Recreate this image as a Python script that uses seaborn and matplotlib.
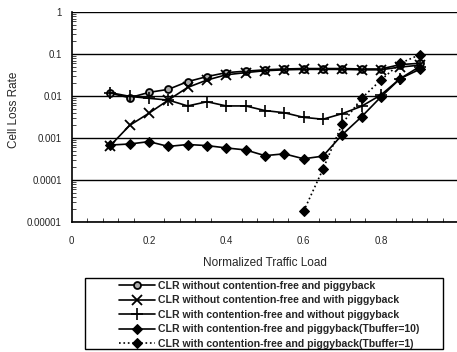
import matplotlib
matplotlib.use("Agg")
import matplotlib.pyplot as plt
import seaborn as sns
import numpy as np
import pandas as pd
from matplotlib.ticker import LogLocator, NullFormatter, MultipleLocator
from matplotlib.patches import Rectangle

sns.set_style("white")
plt.rcParams['font.family'] = ['Liberation Sans', 'DejaVu Sans']

load = [0.1, 0.15, 0.2, 0.25, 0.3, 0.35, 0.4, 0.45, 0.5, 0.55, 0.6, 0.65, 0.7, 0.75, 0.8, 0.85, 0.9]
clr_no_cf_no_pb = [0.0116, 0.0091, 0.0122, 0.0144, 0.022, 0.029, 0.036, 0.039, 0.042, 0.044,
                   0.045, 0.045, 0.045, 0.044, 0.044, 0.056, 0.06]
clr_no_cf_pb = [0.00066, 0.002, 0.0039, 0.008, 0.016, 0.024, 0.032, 0.036, 0.04, 0.042,
                0.043, 0.043, 0.043, 0.042, 0.042, 0.049, 0.054]
clr_cf_no_pb = [0.012, 0.0098, 0.0088, 0.008, 0.0058, 0.0073, 0.0058, 0.0058, 0.0045, 0.004,
                0.0031, 0.0028, 0.0038, 0.0057, 0.0106, 0.026, 0.05]
clr_cf_pb_t10 = [0.00068, 0.00072, 0.00082, 0.00063, 0.0007, 0.00066, 0.00058, 0.00052, 0.00038,
                 0.00042, 0.00032, 0.00037, 0.0012, 0.0032, 0.0095, 0.026, 0.043]
load_t1 = [0.6, 0.65, 0.7, 0.75, 0.8, 0.85, 0.9]
clr_cf_pb_t1 = [0.000018, 0.00018, 0.0022, 0.0088, 0.024, 0.06, 0.096]

labels = ["CLR without contention-free and piggyback",
          "CLR without contention-free and with piggyback",
          "CLR with contention-free and without piggyback",
          "CLR with contention-free and piggyback(Tbuffer=10)",
          "CLR with contention-free and piggyback(Tbuffer=1)"]

fig = plt.figure(figsize=(4.57, 3.52), dpi=100)
ax = fig.add_axes([71.7/457, (352-222)/352, 386.5/457, 210/352])

series = [
    (load, clr_no_cf_no_pb, dict(marker='o', markersize=5, markerfacecolor='#aaaaaa', markeredgewidth=1.3, linestyle='-')),
    (load, clr_no_cf_pb, dict(marker='x', markersize=7, markeredgewidth=1.3, linestyle='-')),
    (load, clr_cf_no_pb, dict(marker='+', markersize=8, markeredgewidth=1.2, linestyle='-')),
    (load, clr_cf_pb_t10, dict(marker='D', markersize=5, markerfacecolor='black', linestyle='-')),
    (load_t1, clr_cf_pb_t1, dict(marker='D', markersize=5.5, markerfacecolor='black', linestyle=':')),
]
for (xs, ys, kw), lab in zip(series, labels):
    df = pd.DataFrame({"x": xs, "y": ys})
    sns.lineplot(data=df, x="x", y="y", ax=ax, color='black', linewidth=1.2,
                 label=lab, markeredgecolor='black', **kw)

ax.set_yscale('log')
ax.set_ylim(1e-5, 1)
ax.set_xlim(0, 1)
ax.set_yticks([1e-5, 1e-4, 1e-3, 1e-2, 1e-1, 1])
ax.set_yticklabels(["0.00001", "0.0001", "0.001", "0.01", "0.1", "1"])
ax.yaxis.set_minor_locator(LogLocator(base=10, subs=np.arange(2, 10)))
ax.yaxis.set_minor_formatter(NullFormatter())
ax.set_xticks([0, 0.2, 0.4, 0.6, 0.8, 1.0])
ax.set_xticklabels(["0", "0.2", "0.4", "0.6", "0.8", ""])
ax.xaxis.set_minor_locator(MultipleLocator(0.04))
ax.tick_params(axis='both', which='major', direction='inout', length=6, width=1, labelsize=7, color='black', pad=4)
ax.tick_params(axis='y', which='minor', direction='in', length=3, width=0.6, left=True)
ax.tick_params(axis='x', which='minor', direction='in', length=3, width=0.6, bottom=True)
ax.tick_params(axis='x', which='major', pad=7)
ax.grid(axis='y', which='major', color='black', linewidth=1.0)
ax.grid(axis='x', visible=False)
for s in ['top', 'right']:
    ax.spines[s].set_visible(False)
for s in ['left', 'bottom']:
    ax.spines[s].set_color('black')
    ax.spines[s].set_linewidth(1.2)

ax.set_xlabel("Normalized Traffic Load", fontsize=8.5, labelpad=8)
ax.set_ylabel("Cell Loss Rate", fontsize=8.5)
ax.yaxis.set_label_coords((20 - 71.7) / 386.5, (222 - 110) / 210)

leg = ax.legend(loc='upper left', bbox_to_anchor=(119/457, 1 - 281/352),
                bbox_transform=fig.transFigure,
                prop={'weight': 'bold', 'size': 7.6}, frameon=False,
                handlelength=3.4, handletextpad=0.3, borderaxespad=0, borderpad=0,
                labelspacing=0.42)
fig.add_artist(Rectangle((85/457, 1 - 349/352), 358/457, 71/352, transform=fig.transFigure,
                         fill=False, edgecolor='black', linewidth=1.0))

fig.savefig("out.png", dpi=100)
